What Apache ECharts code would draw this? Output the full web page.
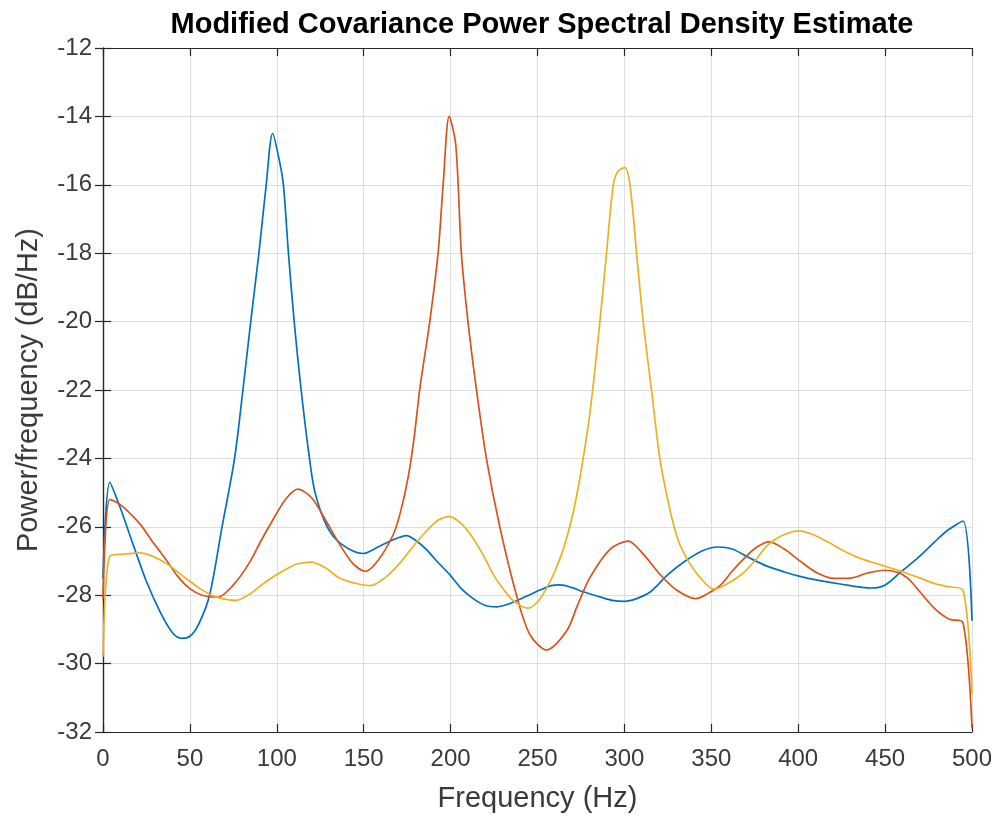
<!DOCTYPE html>
<html>
<head>
<meta charset="utf-8">
<script src="https://cdn.jsdelivr.net/npm/echarts@6/dist/echarts.min.js"></script>
<style>
html,body{margin:0;padding:0;background:#fff;}
#chart{width:996px;height:818px;}
</style>
</head>
<body>
<div id="chart"></div>
<script>
var titleText = 'Modified Covariance Power Spectral Density Estimate';
var xLabel = 'Frequency (Hz)';
var yLabel = 'Power/frequency (dB/Hz)';

var blueFreq = [0,3.9,9.6,17.2,25,33,40,45,50,55,61.3,68.5,75.7,80.5,85,89.7,93.9,97.6,101.5,103.8,106.7,110,114,118.8,122,129,137,149.5,158,166,174.6,180,186,192,199.5,206,213,220,226.4,232,238,245,251.3,258,263,270,276.3,286,293,300,307,315,325,335,345,353.5,362,372.7,382,392,401,411,425,442,450,459,469,478.5,486,494.8,500];
var bluePower = [-27.5,-24.7,-25.4,-26.5,-27.6,-28.5,-29.1,-29.26,-29.2,-28.85,-28.0,-26.0,-24.0,-22.0,-20.0,-18.0,-16.0,-14.5,-15.3,-16.0,-18.0,-20.0,-22.0,-24.0,-25.0,-26.0,-26.5,-26.78,-26.6,-26.4,-26.26,-26.4,-26.66,-27.0,-27.4,-27.8,-28.1,-28.3,-28.34,-28.28,-28.16,-28.0,-27.85,-27.72,-27.7,-27.78,-27.9,-28.05,-28.15,-28.18,-28.1,-27.9,-27.4,-27.0,-26.7,-26.59,-26.65,-26.93,-27.15,-27.32,-27.45,-27.56,-27.68,-27.79,-27.7,-27.32,-26.9,-26.44,-26.1,-25.83,-28.75];

var orangeFreq = [0,3.9,10,21,28,36.4,43,49.8,57,66,75,84,91,97.7,105,112,120,128,136,143.7,151,158,166.9,171,175.5,179,182.2,188,192.8,195.7,199.2,203,206.2,210,214.9,220.6,228.3,237.9,245.6,255.2,266.7,273,280,291.7,302.2,310,320.8,330,341,348,355.4,362,368.8,376,383.3,392,401.5,411,420.8,430,440,449.6,457,463,470,478.5,487,494.8,500];
var orangePower = [-28.1,-25.2,-25.35,-25.9,-26.4,-26.97,-27.45,-27.8,-28.0,-28.06,-27.7,-27.07,-26.4,-25.8,-25.2,-24.9,-25.15,-25.8,-26.5,-27.07,-27.3,-27.0,-26.24,-25.6,-24.57,-23.4,-22.0,-20.0,-18.0,-16.0,-14.0,-14.85,-18.0,-20.0,-22.0,-24.0,-26.0,-28.0,-29.15,-29.6,-29.05,-28.3,-27.5,-26.66,-26.42,-26.75,-27.41,-27.85,-28.1,-27.95,-27.7,-27.3,-26.93,-26.6,-26.44,-26.65,-27.02,-27.35,-27.51,-27.5,-27.35,-27.27,-27.33,-27.5,-27.9,-28.39,-28.7,-28.8,-31.9];

var yellowFreq = [0,3.9,12,21,28,36.4,45,55.6,65,76.6,85,93.9,105,112,119.7,128,136,145,154,162,170.7,178,186,193,199.5,206,213,219,224.5,230,236,244.6,250,255.2,260,264.8,270,274.4,280.1,285.9,289.7,293.6,296.4,300.3,303.2,307,310.8,315.6,320.4,326.2,331,336,343,351.5,358,367,375,382.3,391,400.6,408,416.9,426,436,448,459.2,469,478.5,486,494.8,500];
var yellowPower = [-29.8,-26.86,-26.8,-26.76,-26.85,-27.07,-27.4,-27.8,-28.05,-28.15,-27.95,-27.6,-27.25,-27.08,-27.03,-27.2,-27.5,-27.65,-27.72,-27.5,-27.07,-26.6,-26.13,-25.8,-25.7,-25.9,-26.34,-26.85,-27.39,-27.8,-28.16,-28.38,-28.2,-27.8,-27.3,-26.66,-25.7,-24.57,-22.7,-20.0,-18.0,-16.0,-15.6,-15.5,-16.0,-18.0,-20.0,-22.0,-24.0,-25.5,-26.4,-26.93,-27.45,-27.82,-27.7,-27.41,-27.0,-26.54,-26.25,-26.12,-26.22,-26.44,-26.7,-26.93,-27.12,-27.3,-27.48,-27.66,-27.75,-27.85,-30.9];

var xTicks = [0,50,100,150,200,250,300,350,400,450,500];
var yTicks = [-32,-30,-28,-26,-24,-22,-20,-18,-16,-14,-12];

function pairs(xs, ys){ var out=[]; for(var i=0;i<xs.length;i++){ out.push([xs[i], ys[i]]); } return out; }

var FONT = 'Liberation Sans, Arial, Helvetica, sans-serif';
var AX = '#262626';
var LBL = '#3a3a3a';
var GRIDC = '#dedede';

var chart = echarts.init(document.getElementById('chart'), null, {renderer:'canvas'});
var common = {
  axisLine:{show:true, lineStyle:{color:AX, width:1.2}},
  axisTick:{show:true, inside:true, length:8, lineStyle:{color:AX, width:1.2}}
};
function line(xs, ys, color, z){
  return {type:'line', data:pairs(xs, ys), showSymbol:false, smooth:0.3,
    lineStyle:{color:color, width:1.7}, itemStyle:{color:color}, z:z};
}
chart.setOption({
  backgroundColor:'#ffffff',
  animation:false,
  title:{
    text:titleText, left:537, top:5, textAlign:'center',
    textStyle:{fontFamily:FONT, fontWeight:'bold', fontSize:29, color:'#000'}
  },
  grid:{left:103, right:24, top:48, bottom:83, containLabel:false},
  xAxis:[
    Object.assign({
      type:'value', position:'bottom', min:xTicks[0], max:xTicks[xTicks.length-1], interval:50,
      name:xLabel, nameLocation:'middle', nameGap:52,
      nameTextStyle:{fontFamily:FONT, fontSize:29, color:LBL},
      axisLabel:{fontFamily:FONT, fontSize:24, color:LBL, margin:15},
      splitLine:{show:true, lineStyle:{color:GRIDC, width:1}}
    }, common),
    Object.assign({
      type:'value', position:'top', min:xTicks[0], max:xTicks[xTicks.length-1], interval:50,
      axisLabel:{show:false}, splitLine:{show:false}
    }, common)
  ],
  yAxis:[
    Object.assign({
      type:'value', position:'left', min:yTicks[0], max:yTicks[yTicks.length-1], interval:2,
      name:yLabel, nameLocation:'middle', nameGap:60, nameRotate:90,
      nameTextStyle:{fontFamily:FONT, fontSize:29, color:LBL},
      axisLabel:{fontFamily:FONT, fontSize:24, color:LBL, margin:11},
      splitLine:{show:true, lineStyle:{color:GRIDC, width:1}}
    }, common),
    Object.assign({
      type:'value', position:'right', min:yTicks[0], max:yTicks[yTicks.length-1], interval:2,
      axisLabel:{show:false}, splitLine:{show:false}
    }, common)
  ],
  series:[
    line(blueFreq, bluePower, '#0072BD', 3),
    line(orangeFreq, orangePower, '#D95319', 4),
    line(yellowFreq, yellowPower, '#EDB120', 5)
  ]
});
</script>
</body>
</html>
